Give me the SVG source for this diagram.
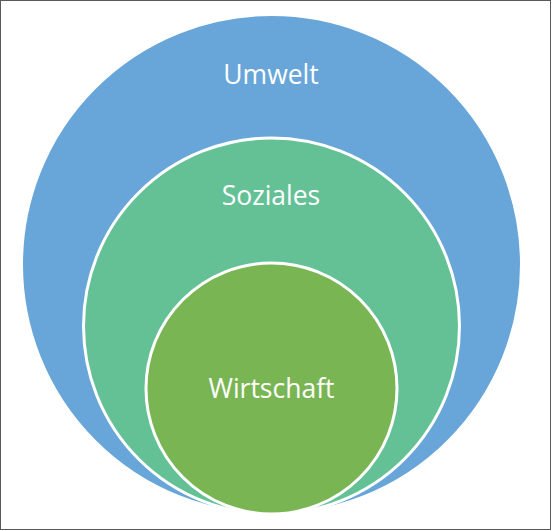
<svg xmlns="http://www.w3.org/2000/svg" width="552" height="531" viewBox="0 0 552 531">
<style>
.c{stroke:#fff;stroke-width:3}
.t{fill:#fff;font-family:"Open Sans","Liberation Sans",sans-serif;font-size:26.5px;text-anchor:middle}
</style>
<rect x="0.5" y="0.5" width="550" height="529" fill="#fff" stroke="#595959" stroke-width="1"/>
<g id="umwelt"><circle class="c" cx="271.5" cy="264.5" r="250" fill="#68A6D9"/><text class="t" x="271" y="83.5">Umwelt</text></g>
<g id="soziales"><circle class="c" cx="271.5" cy="326" r="188" fill="#64C196"/><text class="t" x="271" y="204.5">Soziales</text></g>
<g id="wirtschaft"><circle class="c" cx="271.5" cy="388.5" r="125.5" fill="#7AB553"/><text class="t" x="271.5" y="398">Wirtschaft</text></g>
<g id="connectors"/>
</svg>
